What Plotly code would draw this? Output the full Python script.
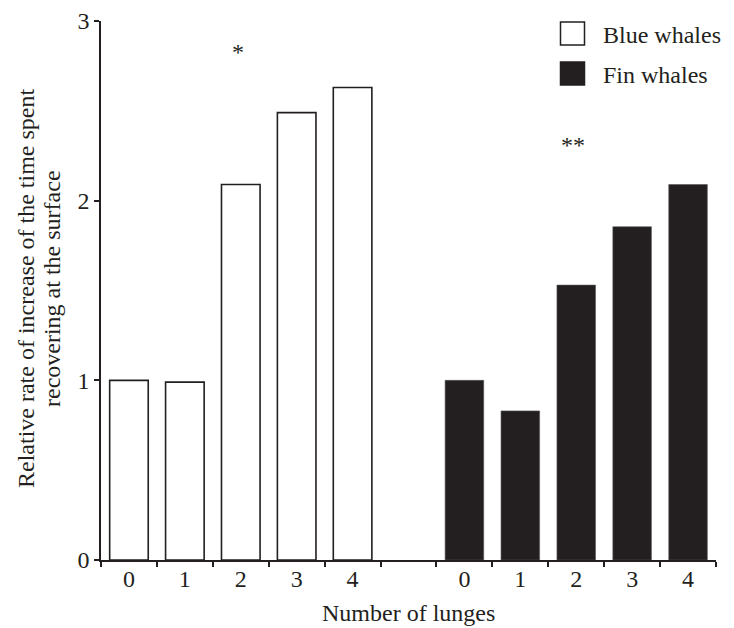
import plotly.graph_objects as go

# ---- data ----
lunge_labels = ["0", "1", "2", "3", "4"]
blue_values = [1.00, 0.99, 2.09, 2.49, 2.63]
fin_values = [1.00, 0.83, 1.53, 1.855, 2.09]
blue_name = "Blue whales"
fin_name = "Fin whales"
y_ticks = [0, 1, 2, 3]
y_title_lines = ["Relative rate of increase of the time spent", "recovering at the surface"]
x_title = "Number of lunges"
sig_blue = {"lunge": 2, "text": "*", "y": 2.83}
sig_fin = {"lunge": 2, "text": "**", "y": 2.31}

INK = "#231f20"
FONT = "Liberation Serif"

# positions: blue slots 0..4, empty slot 5, fin slots 6..10
n = len(lunge_labels)
blue_x = list(range(n))
fin_x = [i + n + 1 for i in range(n)]
all_centers = blue_x + fin_x
all_text = lunge_labels + lunge_labels
boundaries = [i - 0.5 for i in range(2 * n + 2)]

fig = go.Figure()
fig.add_trace(go.Bar(x=blue_x, y=blue_values, name=blue_name, width=0.69,
                     marker=dict(color="white", line=dict(color=INK, width=1.6)),
                     showlegend=False))
fig.add_trace(go.Bar(x=fin_x, y=fin_values, name=fin_name, width=0.69,
                     marker=dict(color=INK, line=dict(color="#555", width=0.6)),
                     showlegend=False))

# significance marks
for sig, xs in ((sig_blue, blue_x), (sig_fin, fin_x)):
    fig.add_annotation(x=xs[sig["lunge"]], y=sig["y"], text=sig["text"],
                       showarrow=False, xref="x", yref="y", xshift=-3,
                       font=dict(size=24, color=INK, family=FONT),
                       xanchor="center", yanchor="middle")

# manual legend (large square swatches)
legend_items = [(blue_name, "white"), (fin_name, INK)]
for k, (name, fill) in enumerate(legend_items):
    y0 = 22 + k * 40
    fig.add_shape(type="rect", xref="paper", yref="paper",
                  x0=(561 - 101.5) / 615, x1=(585 - 101.5) / 615,
                  y0=(560 - (y0 + 23)) / 539, y1=(560 - y0) / 539,
                  line=dict(color=INK, width=1.5), fillcolor=fill)
    fig.add_annotation(x=(601 - 101.5) / 615, y=(560 - (y0 + 12.5)) / 539,
                       xref="paper", yref="paper", text=name, showarrow=False,
                       xanchor="left", yanchor="middle",
                       font=dict(size=24, color=INK, family=FONT))

# y-axis title as two rotated lines (tight line spacing as in the original)
for k, line in enumerate(y_title_lines):
    fig.add_annotation(x=0, y=(560 - 289) / 539, xref="paper", yref="paper",
                       xshift=(26 + 26 * k) - 101, text=line, textangle=-90,
                       showarrow=False, xanchor="center", yanchor="middle",
                       font=dict(size=24, color=INK, family=FONT))

# x-axis title
fig.add_annotation(x=0.5, y=(560 - 613) / 539, xref="paper", yref="paper",
                   text=x_title, showarrow=False, xanchor="center", yanchor="middle",
                   font=dict(size=24, color=INK, family=FONT))

fig.update_layout(
    width=734, height=628,
    margin=dict(l=101, r=18, t=21, b=68),
    paper_bgcolor="white", plot_bgcolor="white",
    font=dict(family=FONT, size=24, color=INK),
    bargap=0.3,
    xaxis=dict(
        range=[-0.5, 2 * n + 0.5], automargin=False,
        tickmode="array", tickvals=all_centers, ticktext=all_text,
        ticks="", ticklen=0, showline=True, linecolor=INK, linewidth=1.5,
        showgrid=False, zeroline=False, ticklabelstandoff=-4,
        minor=dict(tickmode="array", tickvals=boundaries, ticks="outside",
                   ticklen=5, tickwidth=1.5, tickcolor=INK, showgrid=False),
        tickfont=dict(size=24, family=FONT, color=INK),
    ),
    yaxis=dict(
        range=[0, 3], automargin=False, tickmode="array", tickvals=y_ticks,
        ticks="outside", ticklen=5, tickwidth=1.5, tickcolor=INK,
        showline=True, linecolor=INK, linewidth=1.5,
        showgrid=False, zeroline=False,
        tickfont=dict(size=24, family=FONT, color=INK),
    ),
)

fig.write_html("out.html")
